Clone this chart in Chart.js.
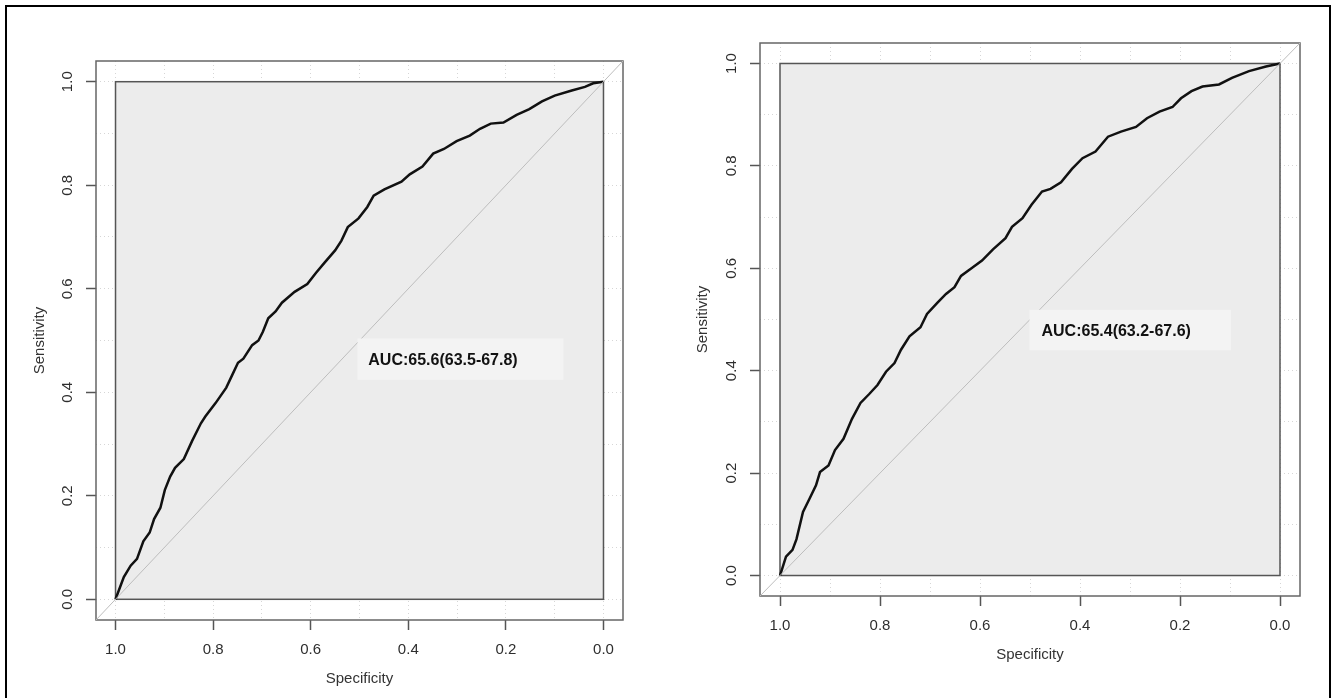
<!DOCTYPE html>
<html>
<head>
<meta charset="utf-8">
<script src="https://cdn.jsdelivr.net/npm/chart.js@4/dist/chart.umd.min.js"></script>
<style>
  body { margin: 0; background: #fff; }
  #wrap { position: relative; width: 1338px; height: 698px; overflow: hidden; }
  canvas { position: absolute; top: 0; }
  #frame { position: absolute; left: 5px; top: 5px; width: 1322px; height: 720px; border: 2px solid #000; pointer-events: none; }
</style>
</head>
<body>
<div id="wrap">
  <canvas id="roc-left" width="669" height="698" style="left:0"></canvas>
  <canvas id="roc-right" width="669" height="698" style="left:669px"></canvas>
  <div id="frame"></div>
</div>
<script>
// values: specificity (x, reversed) and sensitivity (y)
const leftSpec = [1.0, 0.983, 0.969, 0.956, 0.943, 0.930, 0.921, 0.908, 0.899, 0.888, 0.878, 0.860, 0.843, 0.825, 0.816, 0.795, 0.773, 0.760, 0.749, 0.738, 0.720, 0.707, 0.698, 0.687, 0.672, 0.659, 0.633, 0.607, 0.589, 0.572, 0.550, 0.537, 0.524, 0.502, 0.484, 0.471, 0.449, 0.414, 0.397, 0.371, 0.349, 0.327, 0.301, 0.274, 0.253, 0.231, 0.205, 0.178, 0.152, 0.126, 0.100, 0.065, 0.038, 0.021, 0.0];
const leftSens = [0.0, 0.043, 0.065, 0.078, 0.112, 0.129, 0.155, 0.177, 0.211, 0.237, 0.254, 0.271, 0.306, 0.340, 0.353, 0.379, 0.409, 0.435, 0.457, 0.465, 0.491, 0.500, 0.517, 0.543, 0.556, 0.573, 0.594, 0.609, 0.631, 0.650, 0.674, 0.693, 0.719, 0.736, 0.758, 0.780, 0.792, 0.807, 0.821, 0.836, 0.861, 0.870, 0.885, 0.896, 0.909, 0.919, 0.921, 0.936, 0.947, 0.962, 0.973, 0.983, 0.990, 0.997, 1.0];

const rightSpec = [1.0, 0.988, 0.975, 0.967, 0.954, 0.941, 0.928, 0.920, 0.903, 0.890, 0.873, 0.856, 0.839, 0.822, 0.805, 0.788, 0.771, 0.758, 0.741, 0.719, 0.706, 0.685, 0.668, 0.651, 0.638, 0.617, 0.596, 0.574, 0.549, 0.536, 0.515, 0.497, 0.476, 0.459, 0.438, 0.416, 0.395, 0.369, 0.344, 0.318, 0.288, 0.266, 0.241, 0.215, 0.198, 0.177, 0.155, 0.122, 0.096, 0.062, 0.028, 0.0];
const rightSens = [0.0, 0.037, 0.050, 0.071, 0.124, 0.150, 0.176, 0.202, 0.215, 0.245, 0.267, 0.306, 0.337, 0.354, 0.372, 0.398, 0.415, 0.441, 0.467, 0.485, 0.511, 0.533, 0.550, 0.563, 0.585, 0.600, 0.615, 0.637, 0.659, 0.681, 0.698, 0.724, 0.750, 0.755, 0.768, 0.794, 0.815, 0.828, 0.857, 0.867, 0.876, 0.893, 0.906, 0.915, 0.932, 0.946, 0.955, 0.959, 0.972, 0.985, 0.994, 1.0];

const tickValues = [0, 0.1, 0.2, 0.3, 0.4, 0.5, 0.6, 0.7, 0.8, 0.9, 1.0];
const axisMin = -0.04;
const axisMax = 1.04;
const aucLeft = 'AUC:65.6(63.5-67.8)';
const aucRight = 'AUC:65.4(63.2-67.6)';

const tickFont = { family: 'Liberation Sans, Arial, sans-serif', size: 15 };
const isMajor = v => Math.round(v * 10) % 2 === 0;

// R-style frame, grey ROC region and AUC label
const rocDecor = {
  id: 'rocDecor',
  beforeDatasetsDraw(chart) {
    const { ctx, chartArea: a, scales: { x, y } } = chart;
    const x1 = x.getPixelForValue(1), x0 = x.getPixelForValue(0);
    const y1 = y.getPixelForValue(1), y0 = y.getPixelForValue(0);
    ctx.save();
    ctx.fillStyle = '#ececec';
    ctx.fillRect(x1, y1, x0 - x1, y0 - y1);
    ctx.strokeStyle = '#555';
    ctx.lineWidth = 1.5;
    ctx.strokeRect(x1, y1, x0 - x1, y0 - y1);
    ctx.strokeStyle = '#666';
    ctx.strokeRect(a.left, a.top, a.right - a.left, a.bottom - a.top);
    ctx.restore();
  },
  afterDatasetsDraw(chart, args, opts) {
    const { ctx, scales: { x, y } } = chart;
    const bx0 = x.getPixelForValue(opts.box[0]), bx1 = x.getPixelForValue(opts.box[1]);
    const by0 = y.getPixelForValue(opts.box[2]), by1 = y.getPixelForValue(opts.box[3]);
    ctx.save();
    ctx.fillStyle = '#f3f3f3';
    ctx.fillRect(bx0, by0, bx1 - bx0, by1 - by0);
    ctx.fillStyle = '#111';
    ctx.font = 'bold 16px "Liberation Sans", Arial, sans-serif';
    ctx.textBaseline = 'middle';
    ctx.fillText(opts.text, x.getPixelForValue(opts.textAt[0]), y.getPixelForValue(opts.textAt[1]));
    ctx.restore();
  }
};

function makeRoc(canvas, spec, sens, cfg) {
  const curve = spec.map((s, i) => ({ x: s, y: sens[i] }));
  const diag = [{ x: axisMax, y: axisMin }, { x: axisMin, y: axisMax }];
  const axisCommon = {
    min: axisMin,
    max: axisMax,
    afterBuildTicks: scale => { scale.ticks = tickValues.map(v => ({ value: v })); },
    border: { display: false, dash: [1, 3] },
    grid: {
      color: '#d6d6d6',
      lineWidth: 1,
      tickLength: 10,
      tickColor: c => isMajor(c.tick.value) ? '#555' : 'rgba(0,0,0,0)',
      tickWidth: 1.5
    }
  };
  return new Chart(canvas.getContext('2d'), {
    type: 'scatter',
    data: {
      datasets: [
        { data: diag, showLine: true, borderColor: '#bdbdbd', borderWidth: 1, pointRadius: 0 },
        { data: curve, showLine: true, borderColor: '#111', borderWidth: 2.5, pointRadius: 0, tension: 0 }
      ]
    },
    options: {
      responsive: false,
      animation: false,
      layout: { padding: { left: 0, top: cfg.top, right: cfg.right, bottom: 0 } },
      plugins: {
        legend: { display: false },
        tooltip: { enabled: false },
        rocDecor: cfg.label
      },
      scales: {
        x: Object.assign({}, axisCommon, {
          type: 'linear',
          reverse: true,
          afterFit: s => { s.height = cfg.xHeight; },
          ticks: {
            padding: 11,
            color: '#2e2e2e',
            font: tickFont,
            callback: v => isMajor(v) ? v.toFixed(1) : ''
          },
          title: { display: true, text: 'Specificity', color: '#333', font: tickFont, padding: { top: 0, bottom: cfg.xTitlePad } }
        }),
        y: Object.assign({}, axisCommon, {
          type: 'linear',
          afterFit: s => { s.width = cfg.yWidth; },
          ticks: {
            padding: 7.5,
            minRotation: 90,
            maxRotation: 90,
            crossAlign: 'center',
            color: '#2e2e2e',
            font: tickFont,
            callback: v => isMajor(v) ? v.toFixed(1) : ''
          },
          title: { display: true, text: 'Sensitivity', color: '#333', font: tickFont, padding: { top: cfg.yTitlePad, bottom: 0 } }
        })
      }
    },
    plugins: [rocDecor]
  });
}

makeRoc(document.getElementById('roc-left'), leftSpec, leftSens, {
  top: 61, right: 46, xHeight: 78, yWidth: 96, xTitlePad: 10, yTitlePad: 31,
  label: { text: aucLeft, box: [0.504, 0.082, 0.504, 0.424], textAt: [0.482, 0.461] }
});

makeRoc(document.getElementById('roc-right'), rightSpec, rightSens, {
  top: 43, right: 38, xHeight: 102, yWidth: 91, xTitlePad: 34, yTitlePad: 25,
  label: { text: aucRight, box: [0.501, 0.098, 0.519, 0.440], textAt: [0.477, 0.477] }
});
</script>
</body>
</html>
